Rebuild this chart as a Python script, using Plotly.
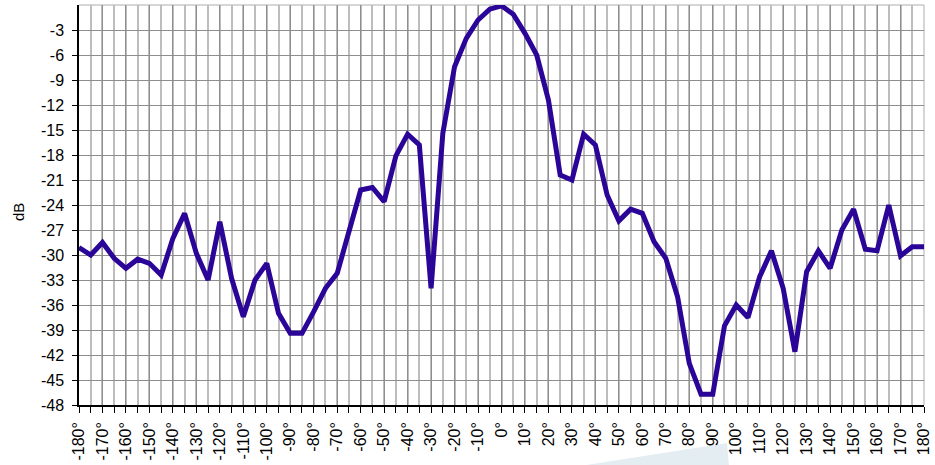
import plotly.graph_objects as go

angles = list(range(-180, 181, 5))
gain_db = [
    -29.1, -30.0, -28.5, -30.4, -31.6, -30.5, -31.0, -32.4, -28.0, -25.0,   # -180..-135
    -29.8, -33.0, -26.0, -32.8, -37.4, -33.0, -31.0, -37.0, -39.4, -39.4,   # -130..-85
    -36.8, -34.0, -32.2, -27.2, -22.2, -21.9, -23.6, -18.1, -15.5, -16.8,   # -80..-35
    -34.0, -15.4, -7.4, -4.0, -1.8, -0.5, -0.1, -1.1, -3.4, -6.0,           # -30..15
    -11.4, -20.4, -21.0, -15.5, -16.8, -22.8, -25.9, -24.5, -25.0, -28.4,   # 20..65
    -30.4, -35.0, -43.0, -46.7, -46.7, -38.5, -36.0, -37.5, -32.6, -29.5,   # 70..115
    -34.0, -41.6, -32.0, -29.5, -31.6, -27.0, -24.5, -29.3, -29.5, -24.0,   # 120..165
    -30.1, -29.0, -29.0,                                                    # 170..180
]

x_tick_vals = list(range(-180, 181, 10))
x_tick_text = [f"{v}°" for v in x_tick_vals]
y_tick_vals = list(range(-3, -49, -3))
y_tick_text = [str(v) for v in y_tick_vals]

fig = go.Figure()
fig.add_trace(go.Scatter(
    x=angles, y=gain_db, mode="lines",
    line=dict(color="#2a0597", width=5),
    hoverinfo="x+y", showlegend=False,
))

W, H = 935, 465
L, R, T, B = 79, 11, 5, 60
pw, ph = W - L - R, H - T - B

def px(x):
    return (x - L) / pw

def py(y):
    return (H - B - y) / ph

fig.update_layout(
    width=W, height=H,
    margin=dict(l=L, r=R, t=T, b=B, autoexpand=False),
    paper_bgcolor="white", plot_bgcolor="white",
    font=dict(family="Liberation Sans, Arial, sans-serif", color="black", size=16),
    xaxis=dict(
        range=[-180, 180], tickmode="array", tickvals=x_tick_vals, ticktext=x_tick_text,
        tickangle=-90, tickfont=dict(size=16), automargin=False,
        showgrid=True, gridcolor="#8e8e8e", gridwidth=1,
        minor=dict(dtick=5, tick0=0, showgrid=True, gridcolor="#bdbdbd", gridwidth=1.5,
                   ticks="outside", ticklen=6, tickcolor="black"),
        ticks="outside", ticklen=6, tickcolor="black", ticklabelstandoff=3,
        showline=True, linecolor="black", linewidth=1.5,
        zeroline=False, fixedrange=True,
    ),
    yaxis=dict(
        range=[-48, 0], tickmode="array", tickvals=y_tick_vals, ticktext=y_tick_text,
        tickfont=dict(size=16), automargin=False,
        showgrid=True, gridcolor="#8e8e8e", gridwidth=1,
        ticks="outside", ticklen=5, tickcolor="black", ticklabelstandoff=5,
        showline=True, linecolor="black", linewidth=1.5,
        zeroline=False, fixedrange=True,
    ),
    shapes=[
        dict(type="line", xref="paper", yref="paper", x0=0, x1=1, y0=1, y1=1,
             line=dict(color="#c8c8c8", width=1.5), layer="below"),
        dict(type="line", xref="paper", yref="paper", x0=1, x1=1, y0=0, y1=1,
             line=dict(color="#c8c8c8", width=1.5), layer="below"),
        dict(type="path", xref="paper", yref="paper",
             path=f"M {px(580)} {py(466)} L {px(727)} {py(443)} L {px(729)} {py(466)} Z",
             fillcolor="#e4edf1", line=dict(width=0), layer="below"),
    ],
    annotations=[
        dict(text="dB", xref="paper", yref="paper", x=px(18), y=py(212),
             textangle=-90, showarrow=False, font=dict(size=15),
             xanchor="center", yanchor="middle"),
    ],
)

fig.write_html(
    "out.html",
    config={"displayModeBar": False},
    post_script="document.body.style.margin='0px';document.body.style.overflow='hidden';",
)
